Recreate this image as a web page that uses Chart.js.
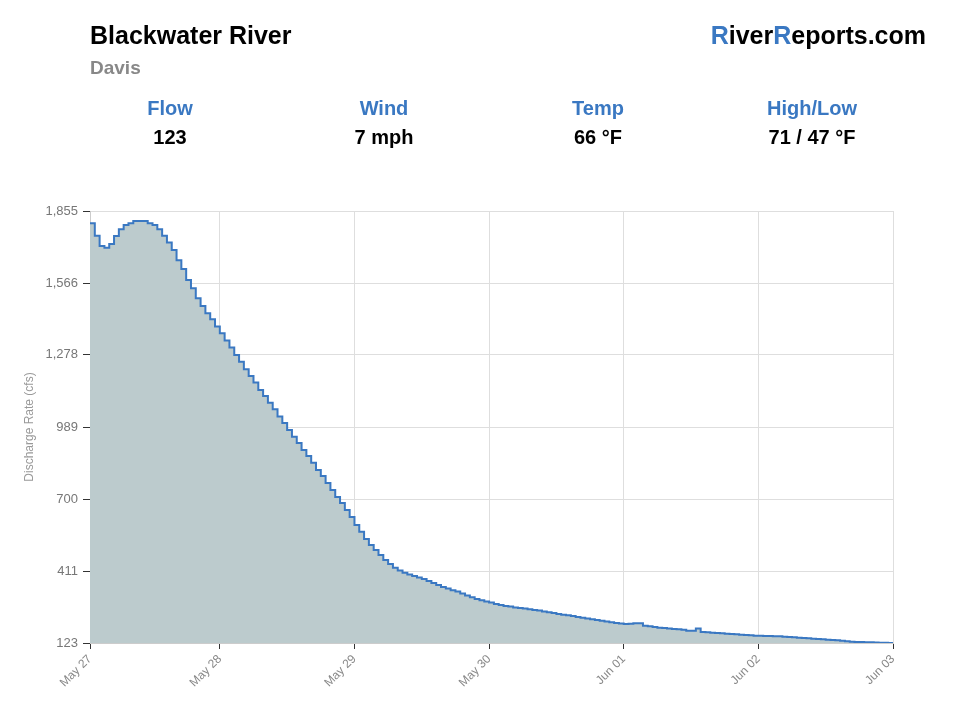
<!DOCTYPE html>
<html>
<head>
<meta charset="utf-8">
<script src="https://cdn.jsdelivr.net/npm/chart.js@4.4.1/dist/chart.umd.min.js"></script>
<style>
    body { margin: 0; background: #fff; font-family: "Liberation Sans", Arial, sans-serif; }
    #page { position: relative; width: 960px; height: 720px; overflow: hidden; }
    #page canvas { position: absolute; left: 0; top: 0; }
    .txt { position: absolute; font-weight: bold; white-space: nowrap; line-height: 1; }
    .stat { position: absolute; width: 214px; text-align: center; font-weight: bold; font-size: 20px; line-height: 1; }
    .blue { color: #3a78c2; }
</style>
</head>
<body>
<div id="page">
    <canvas id="chartFlow" width="960" height="720"></canvas>
    <div class="txt" style="left:90px;top:23px;font-size:25px;color:#000;">Blackwater River</div>
    <div class="txt" style="left:90px;top:58px;font-size:19px;color:#888;">Davis</div>
    <div class="txt" style="right:34px;top:23px;font-size:25px;color:#000;"><span class="blue">R</span>iver<span class="blue">R</span>eports.com</div>

    <div class="stat blue" style="left:63px;top:98px;">Flow</div>
    <div class="stat blue" style="left:277px;top:98px;">Wind</div>
    <div class="stat blue" style="left:491px;top:98px;">Temp</div>
    <div class="stat blue" style="left:705px;top:98px;">High/Low</div>
    <div class="stat" style="left:63px;top:127px;">123</div>
    <div class="stat" style="left:277px;top:127px;">7 mph</div>
    <div class="stat" style="left:491px;top:127px;">66 °F</div>
    <div class="stat" style="left:705px;top:127px;">71 / 47 °F</div>
</div>
<script>
// hourly readings (cfs), May 27 -> Jun 03
const flow = [
    1806, 1756, 1715, 1708, 1723, 1755, 1782, 1799, 1806, 1815, 1815, 1815,
    1806, 1799, 1782, 1756, 1729, 1699, 1658, 1622, 1578, 1545, 1505, 1474,
    1445, 1421, 1392, 1365, 1336, 1308, 1278, 1251, 1221, 1193, 1167, 1137,
    1113, 1086, 1060, 1031, 1005, 977, 950, 925, 897, 873, 846, 817,
    793, 764, 736, 708, 684, 656, 628, 596, 569, 540, 516, 496,
    476, 456, 440, 425, 414, 405, 398, 392, 386, 380, 372, 364,
    356, 348, 342, 334, 329, 321, 313, 306, 299, 294, 289, 285,
    279, 275, 271, 269, 265, 263, 261, 258, 255, 253, 249, 246,
    243, 239, 236, 234, 231, 227, 224, 221, 218, 215, 212, 209,
    206, 203, 201, 199, 200, 202, 202, 192, 190, 187, 184, 183,
    181, 179, 178, 176, 172, 172, 181, 167, 166, 164, 163, 162,
    160, 159, 158, 156, 155, 154, 152, 152, 151, 151, 150, 150,
    148, 147, 146, 144, 143, 142, 140, 139, 138, 136, 135, 134,
    132, 130, 128, 127, 127, 126, 126, 125, 124, 124, 123, 123
];
const xTickPos = [0, 27, 55, 83, 111, 139, 167];
const xTickLabels = ["May 27", "May 28", "May 29", "May 30", "Jun 01", "Jun 02", "Jun 03"];
const yTicks = [123, 411, 700, 989, 1278, 1566, 1855];

new Chart(document.getElementById("chartFlow"), {
    type: "line",
    data: {
        datasets: [{
            label: "Discharge",
            data: flow.map((v, i) => ({ x: i, y: v })),
            stepped: true,
            borderColor: "#3a78c2",
            borderWidth: 2,
            backgroundColor: "#bccbcd",
            fill: "start",
            pointRadius: 0
        }]
    },
    options: {
        responsive: false,
        animation: false,
        layout: {
            padding: { top: 211, right: 67, bottom: 0, left: 0 }
        },
        plugins: {
            legend: { display: false },
            tooltip: { enabled: false }
        },
        scales: {
            x: {
                type: "linear",
                min: 0,
                max: 167,
                afterBuildTicks: s => { s.ticks = xTickPos.map(v => ({ value: v })); },
                afterFit: s => { s.height = 77; },
                ticks: {
                    autoSkip: false,
                    maxRotation: 45,
                    minRotation: 45,
                    color: "#888",
                    font: { family: "Liberation Sans", size: 12 },
                    callback: (v, i) => xTickLabels[i]
                },
                grid: { color: "#dedede", tickColor: "#333", tickLength: 6 },
                border: { color: "#ccc" }
            },
            y: {
                min: 123,
                max: 1855,
                afterBuildTicks: s => { s.ticks = yTicks.map(v => ({ value: v })); },
                afterFit: s => { s.width = 90; },
                ticks: {
                    color: "#777",
                    padding: 5,
                    font: { family: "Liberation Sans", size: 13 },
                    callback: v => v.toLocaleString("en-US")
                },
                grid: { color: "#dedede", tickColor: "#333", tickLength: 7 },
                border: { color: "#ccc" },
                title: {
                    display: true,
                    text: "Discharge Rate (cfs)",
                    color: "#999",
                    font: { family: "Liberation Sans", size: 12 },
                    padding: { top: 22, bottom: 0 }
                }
            }
        }
    }
});
</script>
</body>
</html>
